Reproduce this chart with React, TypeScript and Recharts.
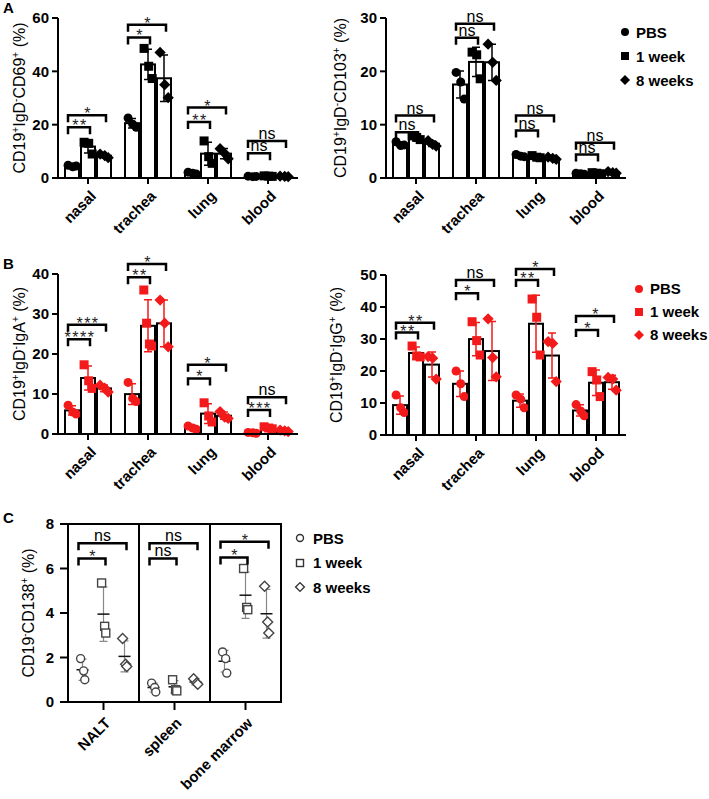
import React from 'react';
import { BarChart, Bar, XAxis, YAxis, Legend, ReferenceArea } from 'recharts';

const FONT = '"Liberation Sans", Arial, Helvetica, sans-serif';
const RED = '#f21a1a';

const groups = ['PBS', '1 week', '8 weeks'];
const organs = ['nasal', 'trachea', 'lung', 'blood'];
const tissues = ['NALT', 'spleen', 'bone marrow'];

// A left: CD19+IgD-CD69+ (%)
const cd69Ticks = [0, 20, 40, 60];
const cd69Pbs = [[4.8, 4.2, 4.5], [22.5, 20.2, 19.0], [2.2, 1.8, 1.5], [0.7, 0.5, 0.6]];
const cd69Wk1 = [[13.4, 13.0, 9.0], [48.6, 41.9, 37.3], [13.9, 8.0, 5.5], [0.8, 0.7, 0.6]];
const cd69Wk8 = [[9.0, 8.4, 7.6], [47.1, 35.0, 30.1], [11.0, 9.2, 7.2], [0.7, 0.6, 0.5]];
const cd69Sig1 = ['**', '*', '**', 'ns'];
const cd69Brk1 = [19, 52.7, 21, 9.3];
const cd69Sig8 = ['*', '*', '*', 'ns'];
const cd69Brk8 = [23.5, 57.5, 26.4, 13.9];

// A right: CD19+IgD-CD103+ (%)
const cd103Ticks = [0, 10, 20, 30];
const cd103Pbs = [[6.8, 6.1, 6.2], [19.8, 18.0, 14.8], [4.4, 4.1, 4.0], [0.9, 0.8, 0.7]];
const cd103Wk1 = [[7.9, 7.6, 7.2], [23.6, 23.1, 18.6], [4.2, 3.9, 3.8], [1.0, 0.9, 0.8]];
const cd103Wk8 = [[7.0, 6.3, 6.0], [25.1, 21.7, 18.3], [3.9, 3.7, 3.5], [1.2, 1.0, 0.9]];
const cd103Sig1 = ['ns', 'ns', 'ns', 'ns'];
const cd103Brk1 = [8.6, 26.3, 8.9, 4.4];
const cd103Sig8 = ['ns', 'ns', 'ns', 'ns'];
const cd103Brk8 = [11.7, 28.9, 11.7, 6.6];

// B left: CD19+IgD-IgA+ (%)
const igaTicks = [0, 10, 20, 30, 40];
const igaPbs = [[7.2, 5.5, 5.0], [12.9, 8.9, 8.1], [2.0, 1.5, 1.2], [0.4, 0.3, 0.2]];
const igaWk1 = [[17.3, 13.3, 11.4], [36.0, 27.7, 22.5, 22.0], [7.8, 4.5, 3.0], [1.8, 1.5, 1.3]];
const igaWk8 = [[12.2, 11.5, 10.5], [33.5, 27.7, 21.8], [5.6, 4.2, 3.9], [1.0, 0.8, 0.6]];
const igaSig1 = ['****', '**', '*', '***'];
const igaBrk1 = [23.7, 39.2, 13.9, 6];
const igaSig8 = ['***', '*', '*', 'ns'];
const igaBrk8 = [27.3, 42.5, 17.3, 9.2];

// B right: CD19+IgD-IgG+ (%)
const iggTicks = [0, 10, 20, 30, 40, 50];
const iggPbs = [[12.5, 8.5, 7.0], [20.0, 16.0, 12.0], [12.5, 11.2, 8.5], [9.5, 7.5, 6.0]];
const iggWk1 = [[27.8, 24.7, 24.4], [35.4, 29.5, 25.0], [42.5, 36.8, 25.0], [19.8, 17.2, 12.0]];
const iggWk8 = [[24.5, 24.0, 17.5], [36.3, 24.2, 18.2], [29.2, 28.6, 16.7], [18.0, 17.5, 14.0]];
const iggSig1 = ['**', '*', '**', '*'];
const iggBrk1 = [32, 44.3, 48.4, 32.8];
const iggSig8 = ['**', 'ns', '*', '*'];
const iggBrk8 = [35.1, 48.4, 51.9, 37.2];

// C: CD19-CD138+ (%)
const cd138Ticks = [0, 2, 4, 6, 8];
const cd138Pbs = [[1.95, 1.4, 1.0], [0.85, 0.65, 0.45], [2.25, 1.95, 1.3]];
const cd138Wk1 = [[5.35, 3.4, 3.1], [1.0, 0.55, 0.5], [6.0, 4.25, 4.15]];
const cd138Wk8 = [[2.85, 1.7, 1.6], [1.05, 0.85, 0.8], [5.2, 3.6, 3.1]];
const cd138Sig1 = ['*', 'ns', '*'];
const cd138Brk1 = [6.45, 6.45, 6.5];
const cd138Sig8 = ['ns', 'ns', '*'];
const cd138Brk8 = [7.13, 7.13, 7.2];

const KEYS = ['pbs', 'wk1', 'wk8'];
const MARKS = ['circle', 'square', 'diamond'];

const mean = (a: number[]) => a.reduce((s, v) => s + v, 0) / a.length;
const sdev = (a: number[]) => {
  const m = mean(a);
  return Math.sqrt(a.reduce((s, v) => s + (v - m) ** 2, 0) / (a.length - 1));
};

const buildRows = (
  cats: string[], pbs: number[][], wk1: number[][], wk8: number[][],
  sig1: string[], brk1: number[], sig8: string[], brk8: number[]
) =>
  cats.map((name, i) => ({
    name,
    pbs: mean(pbs[i]), wk1: mean(wk1[i]), wk8: mean(wk8[i]),
    pbsPts: pbs[i], wk1Pts: wk1[i], wk8Pts: wk8[i],
    sig1: sig1[i], brk1: brk1[i], sig2: sig8[i], brk2: brk8[i],
  }));

const cd69Rows = buildRows(organs, cd69Pbs, cd69Wk1, cd69Wk8, cd69Sig1, cd69Brk1, cd69Sig8, cd69Brk8);
const cd103Rows = buildRows(organs, cd103Pbs, cd103Wk1, cd103Wk8, cd103Sig1, cd103Brk1, cd103Sig8, cd103Brk8);
const igaRows = buildRows(organs, igaPbs, igaWk1, igaWk8, igaSig1, igaBrk1, igaSig8, igaBrk8);
const iggRows = buildRows(organs, iggPbs, iggWk1, iggWk8, iggSig1, iggBrk1, iggSig8, iggBrk8);
const cd138Rows = buildRows(tissues, cd138Pbs, cd138Wk1, cd138Wk8, cd138Sig1, cd138Brk1, cd138Sig8, cd138Brk8);

const AX = { stroke: '#000', strokeWidth: 2 };
const TICK = { fill: '#000', fontSize: 15, fontWeight: 'bold', fontFamily: FONT };

function Mark({ kind, cx, cy, r, fill, stroke, sw = 0 }: any) {
  if (kind === 'circle') return <circle cx={cx} cy={cy} r={r} fill={fill} stroke={stroke} strokeWidth={sw} />;
  if (kind === 'square')
    return <rect x={cx - r} y={cy - r} width={2 * r} height={2 * r} fill={fill} stroke={stroke} strokeWidth={sw} />;
  const d = r * 1.25;
  return (
    <polygon
      points={`${cx},${cy - d} ${cx + d},${cy} ${cx},${cy + d} ${cx - d},${cy}`}
      fill={fill} stroke={stroke} strokeWidth={sw}
    />
  );
}

function Bracket({ x1, x2, y, label }: any) {
  const stars = label !== 'ns';
  return (
    <g>
      <path d={`M${x1},${y + 7}V${y}H${x2}V${y + 7}`} fill="none" stroke="#000" strokeWidth={2.5} />
      <text
        x={(x1 + x2) / 2 + (stars ? 1 : 0)} y={stars ? y + 4 : y - 2} textAnchor="middle"
        fontFamily={FONT} fontSize={16} letterSpacing={stars ? 1.5 : 0}
        fill={stars ? '#222' : '#000'}
      >
        {label}
      </text>
    </g>
  );
}

// slanted category name under each x tick
const SlantTick = (props: any) => {
  const { x, y, payload, offX = 9, offY = 11 } = props;
  const tx = Number(x) + offX;
  const ty = Number(y) + offY;
  return (
    <text
      x={tx} y={ty} transform={`rotate(-45 ${tx} ${ty})`} textAnchor="end"
      fontSize={15} fontWeight="bold" fontFamily={FONT} fill="#000"
    >
      {payload.value}
    </text>
  );
};

// bar + error bar + replicate points + significance bracket, all scaled from the bar's own geometry
const makeShape = (s: number, color: string, barGap: number, boxed: boolean) => (props: any) => {
  const { x, y, width, height, payload } = props;
  const key = KEYS[s];
  const m = payload[key];
  const zero = y + height;
  const k = height / m;
  const toY = (v: number) => zero - v * k;
  const pts: number[] = payload[key + 'Pts'];
  const sd = sdev(pts);
  const cx = x + width / 2;
  const jit = boxed
    ? pts.length === 4 ? [-0.3, -0.1, 0.1, 0.3] : [-0.28, 0.05, 0.3]
    : [-0.1, 0.06, 0.12];
  const pbsCx = cx - s * (width + barGap);
  const err = `M${cx},${toY(m - sd)}V${toY(m + sd)}M${cx - 4},${toY(m + sd)}H${cx + 4}M${cx - 4},${toY(m - sd)}H${cx + 4}`;
  return (
    <g>
      {boxed && <rect x={x} y={y} width={width} height={height} fill="#fff" stroke="#000" strokeWidth={2} />}
      {boxed ? (
        <path d={err} stroke={color} strokeWidth={1.5} fill="none" />
      ) : (
        <g>
          <path d={err} stroke="#888" strokeWidth={1.2} fill="none" />
          <path d={`M${cx - 6},${toY(m)}H${cx + 6}`} stroke="#111" strokeWidth={1.5} />
        </g>
      )}
      {pts.map((v, i) => (
        <Mark
          key={i} kind={MARKS[s]} cx={cx + jit[i] * width} cy={toY(v)}
          r={boxed ? 4.5 : 4}
          fill={boxed ? color : '#fff'} stroke={boxed ? 'none' : '#444'} sw={boxed ? 0 : 1.4}
        />
      ))}
      {s > 0 && <Bracket x1={pbsCx - 4} x2={cx + 2} y={toY(payload['brk' + s])} label={payload['sig' + s]} />}
    </g>
  );
};

function YTitle({ viewBox, parts, dx }: any) {
  const cx = viewBox.x + dx;
  const cy = viewBox.y + viewBox.height / 2;
  const spans: React.ReactNode[] = [];
  let lift = false;
  parts.forEach(([t, sup]: [string, string], i: number) => {
    spans.push(<tspan key={'t' + i} dy={lift ? 6 : 0}>{t}</tspan>);
    lift = false;
    if (sup) {
      spans.push(<tspan key={'s' + i} dy={-6} fontSize={10}>{sup}</tspan>);
      lift = true;
    }
  });
  return (
    <text
      x={cx} y={cy} transform={`rotate(-90 ${cx} ${cy})`} textAnchor="middle"
      fontSize={16} fontFamily={FONT} fill="#000"
    >
      {spans}
    </text>
  );
}

function LegendBox({ color, open, rowH, gapL }: any) {
  return (
    <div style={{ fontFamily: FONT, fontWeight: 'bold', fontSize: 15, color: '#000' }}>
      {groups.map((g, i) => (
        <div key={g} style={{ display: 'flex', alignItems: 'center', height: rowH, whiteSpace: 'nowrap' }}>
          <svg width={12} height={12} style={{ overflow: 'visible' }}>
            <Mark
              kind={MARKS[i]} cx={6} cy={6} r={open ? 3.5 : 4}
              fill={open ? '#fff' : color} stroke={open ? '#333' : 'none'} sw={open ? 1.4 : 0}
            />
          </svg>
          <span style={{ marginLeft: gapL }}>{g}</span>
        </div>
      ))}
    </div>
  );
}

function BarPanel({ rows, ticks, title, dx, width, height, mTop, mLeft, mRight, color, legend }: any) {
  const plotH = 160;
  return (
    <BarChart
      width={width} height={height} data={rows}
      margin={{ top: mTop, right: mRight, bottom: 0, left: mLeft }}
      barGap={2} barCategoryGap={7}
    >
      <XAxis
        dataKey="name" interval={0} tick={<SlantTick offX={9} offY={11} />} tickSize={6}
        axisLine={AX} tickLine={AX} height={height - mTop - plotH}
      />
      <YAxis
        domain={[0, ticks[ticks.length - 1]]} ticks={ticks} interval={0} width={58}
        tickSize={6} tickMargin={3} axisLine={AX} tickLine={AX} tick={TICK}
        label={<YTitle parts={title} dx={dx} />}
      />
      {KEYS.map((k, s) => (
        <Bar
          key={k} dataKey={k} name={groups[s]} fill="#fff" isAnimationActive={false}
          shape={makeShape(s, color, 2, true)}
        />
      ))}
      {legend && (
        <Legend
          layout="vertical" align="center" verticalAlign="middle"
          wrapperStyle={{ left: legend.left, top: legend.top, width: 110 }}
          content={() => <LegendBox color={color} rowH={legend.rowH} gapL={legend.gap} />}
        />
      )}
    </BarChart>
  );
}

const Letter = ({ ch, left, top }: any) => (
  <div style={{ position: 'absolute', left, top, fontFamily: FONT, fontWeight: 'bold', fontSize: 15 }}>{ch}</div>
);

export default function App() {
  return (
    <div style={{ position: 'absolute', left: 0, top: 0, width: 709, height: 799, background: '#fff' }}>
      <Letter ch="A" left={3} top={-1} />
      <Letter ch="B" left={3} top={255} />
      <Letter ch="C" left={3} top={509} />

      <div style={{ position: 'absolute', left: 0, top: 0 }}>
        <BarPanel
          rows={cd69Rows} ticks={cd69Ticks} dx={25}
          title={[['CD19', '+'], ['IgD', '-'], ['CD69', '+'], [' (%)', '']]}
          width={300} height={240} mTop={18} mLeft={0} mRight={2} color="#000"
        />
      </div>
      <div style={{ position: 'absolute', left: 300, top: 0 }}>
        <BarPanel
          rows={cd103Rows} ticks={cd103Ticks} dx={18}
          title={[['CD19', '+'], ['IgD', '-'], ['CD103', '+'], [' (%)', '']]}
          width={409} height={240} mTop={18} mLeft={28} mRight={83} color="#000"
          legend={{ left: 319, top: 20, rowH: 24, gap: 5 }}
        />
      </div>
      <div style={{ position: 'absolute', left: 0, top: 240 }}>
        <BarPanel
          rows={igaRows} ticks={igaTicks} dx={25}
          title={[['CD19', '+'], ['IgD', '-'], ['IgA', '+'], [' (%)', '']]}
          width={300} height={260} mTop={34} mLeft={0} mRight={2} color={RED}
        />
      </div>
      <div style={{ position: 'absolute', left: 300, top: 240 }}>
        <BarPanel
          rows={iggRows} ticks={iggTicks} dx={14}
          title={[['CD19', '+'], ['IgD', '-'], ['IgG', '+'], [' (%)', '']]}
          width={409} height={260} mTop={35} mLeft={28} mRight={83} color={RED}
          legend={{ left: 333, top: 37, rowH: 23, gap: 5 }}
        />
      </div>

      <div style={{ position: 'absolute', left: 0, top: 500 }}>
        <BarChart
          width={400} height={299} data={cd138Rows}
          margin={{ top: 24, right: 119, bottom: 0, left: 0 }}
          barGap={2} barCategoryGap={5}
        >
          <ReferenceArea
            x1="NALT" x2="bone marrow" y1={0} y2={8} fill="none" stroke="#000" strokeWidth={2} ifOverflow="visible"
          />
          <ReferenceArea
            x1="spleen" x2="spleen" y1={0} y2={8} fill="none" stroke="#000" strokeWidth={2} ifOverflow="visible"
          />
          <XAxis
            dataKey="name" interval={0} tick={<SlantTick offX={8} offY={12} />} tickSize={8}
            axisLine={AX} tickLine={AX} height={97}
          />
          <YAxis
            domain={[0, 8]} ticks={cd138Ticks} interval={0} width={68}
            tickSize={8} tickMargin={6} axisLine={AX} tickLine={AX} tick={TICK}
            label={<YTitle parts={[['CD19', '-'], ['CD138', '+'], [' (%)', '']]} dx={34} />}
          />
          {KEYS.map((k, s) => (
            <Bar
              key={k} dataKey={k} name={groups[s]} fill="none" isAnimationActive={false}
              shape={makeShape(s, '#000', 2, false)}
            />
          ))}
          <Legend
            layout="vertical" align="center" verticalAlign="middle"
            wrapperStyle={{ left: 294, top: 26, width: 110 }}
            content={() => <LegendBox open rowH={24.5} gapL={7} />}
          />
        </BarChart>
      </div>
    </div>
  );
}
